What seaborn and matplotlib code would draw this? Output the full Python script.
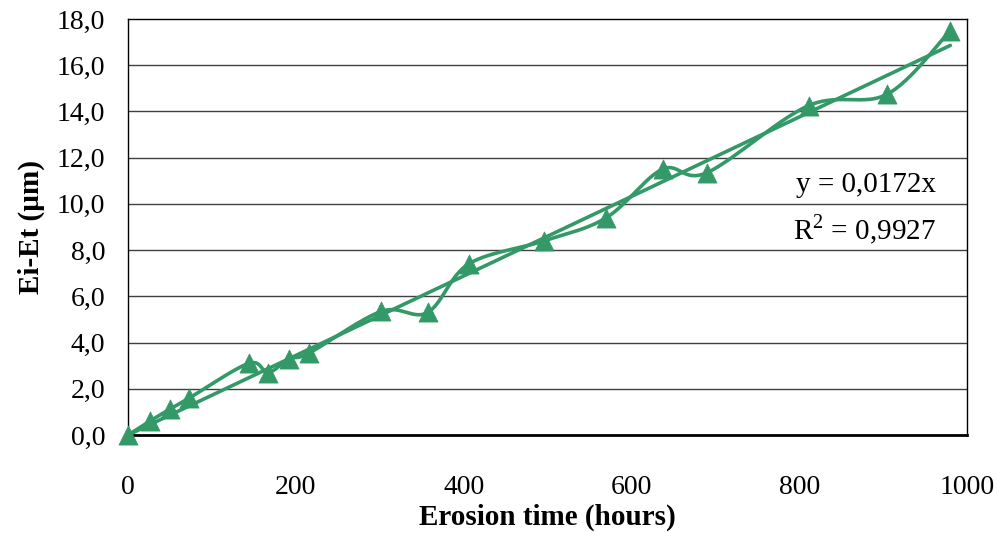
import numpy as np
import pandas as pd
import matplotlib
matplotlib.use("Agg")
import matplotlib.pyplot as plt
import seaborn as sns

# Data
hours = [0, 26, 50, 73, 144, 167, 192, 216, 302, 357, 406, 496, 570, 637, 690, 811, 905, 980]
ei_et = [0.0, 0.6, 1.12, 1.6, 3.1, 2.7, 3.3, 3.55, 5.35, 5.3, 7.4, 8.4, 9.4, 11.5, 11.35, 14.25, 14.75, 17.5]
slope = 0.0172
r2_text = "0,9927"
x_ticks = [0, 200, 400, 600, 800, 1000]
y_ticks = [0, 2, 4, 6, 8, 10, 12, 14, 16, 18]

GREEN = "#339966"

sns.set_style("white")
plt.rcParams["font.family"] = ["Liberation Serif", "DejaVu Serif"]
plt.rcParams["text.color"] = "black"
plt.rcParams["axes.labelcolor"] = "black"


def smooth_curve(x, y, n=30):
    # Catmull-Rom style smoothing (as a spreadsheet "smoothed line")
    x = np.asarray(x, float)
    y = np.asarray(y, float)
    px = np.concatenate([[x[0]], x, [x[-1]]])
    py = np.concatenate([[y[0]], y, [y[-1]]])
    xs, ys = [], []
    t = np.linspace(0, 1, n)
    for i in range(1, len(px) - 2):
        p0, p1, p2, p3 = (np.array([px[j], py[j]]) for j in (i - 1, i, i + 1, i + 2))
        c1 = p1 + (p2 - p0) / 6.0
        c2 = p2 - (p3 - p1) / 6.0
        b = ((1 - t) ** 3)[:, None] * p1 + (3 * (1 - t) ** 2 * t)[:, None] * c1 \
            + (3 * (1 - t) * t ** 2)[:, None] * c2 + (t ** 3)[:, None] * p2
        xs.append(b[:, 0])
        ys.append(b[:, 1])
    return np.concatenate(xs), np.concatenate(ys)


sx, sy = smooth_curve(hours, ei_et)
df_smooth = pd.DataFrame({"x": sx, "y": sy})
df_pts = pd.DataFrame({"x": hours, "y": ei_et})
trend_x = np.array([0, hours[-1]])
df_trend = pd.DataFrame({"x": trend_x, "y": slope * trend_x})

fig = plt.figure(figsize=(9.97, 5.33), dpi=100)
ax = fig.add_axes([0.1284, 0.1839, 0.970 - 0.1284, 0.9644 - 0.1839])

for yv in y_ticks[1:-1]:
    ax.axhline(yv, color="#404040", lw=1.0, zorder=0)

sns.lineplot(data=df_trend, x="x", y="y", ax=ax, color=GREEN, lw=2.6, zorder=3)
sns.lineplot(data=df_smooth, x="x", y="y", ax=ax, color=GREEN, lw=2.6, sort=False,
             estimator=None, zorder=3)
sns.scatterplot(data=df_pts, x="x", y="y", ax=ax, marker="^", s=190, color=GREEN,
                edgecolor=GREEN, linewidth=0.5, zorder=4, clip_on=False)

ax.set_xlim(0, 1000)
ax.set_ylim(0, 18)
ax.set_xticks(x_ticks)
ax.set_xticklabels([str(v) for v in x_ticks])
ax.set_yticks(y_ticks)
ax.set_yticklabels([f"{v:.1f}".replace(".", ",") for v in y_ticks])
ax.tick_params(axis="both", direction="out", length=6.5, width=1, colors="black",
               labelcolor="black", labelsize=20)
ax.tick_params(axis="x", pad=22)
ax.tick_params(axis="y", pad=10)

for side in ["top", "right", "left"]:
    ax.spines[side].set_visible(True)
    ax.spines[side].set_color("black")
    ax.spines[side].set_linewidth(1.0)
ax.spines["bottom"].set_color("black")
ax.spines["bottom"].set_linewidth(2.0)

ax.set_xlabel("Erosion time (hours)", fontsize=21, fontweight="bold", labelpad=3)
ax.set_ylabel("Ei-Et (µm)", fontsize=21, fontweight="bold", labelpad=8)

slope_txt = f"{slope:.4f}".replace(".", ",")
ax.text(936 / 997, 1 - 185 / 533, f"y = {slope_txt}x", transform=fig.transFigure,
        fontsize=21, ha="right", va="center")
ax.text(936 / 997, 1 - 230 / 533, r"R$^{\mathregular{2}}$ = " + r2_text,
        transform=fig.transFigure, fontsize=21, ha="right", va="center")

fig.savefig("out.png", dpi=100)
